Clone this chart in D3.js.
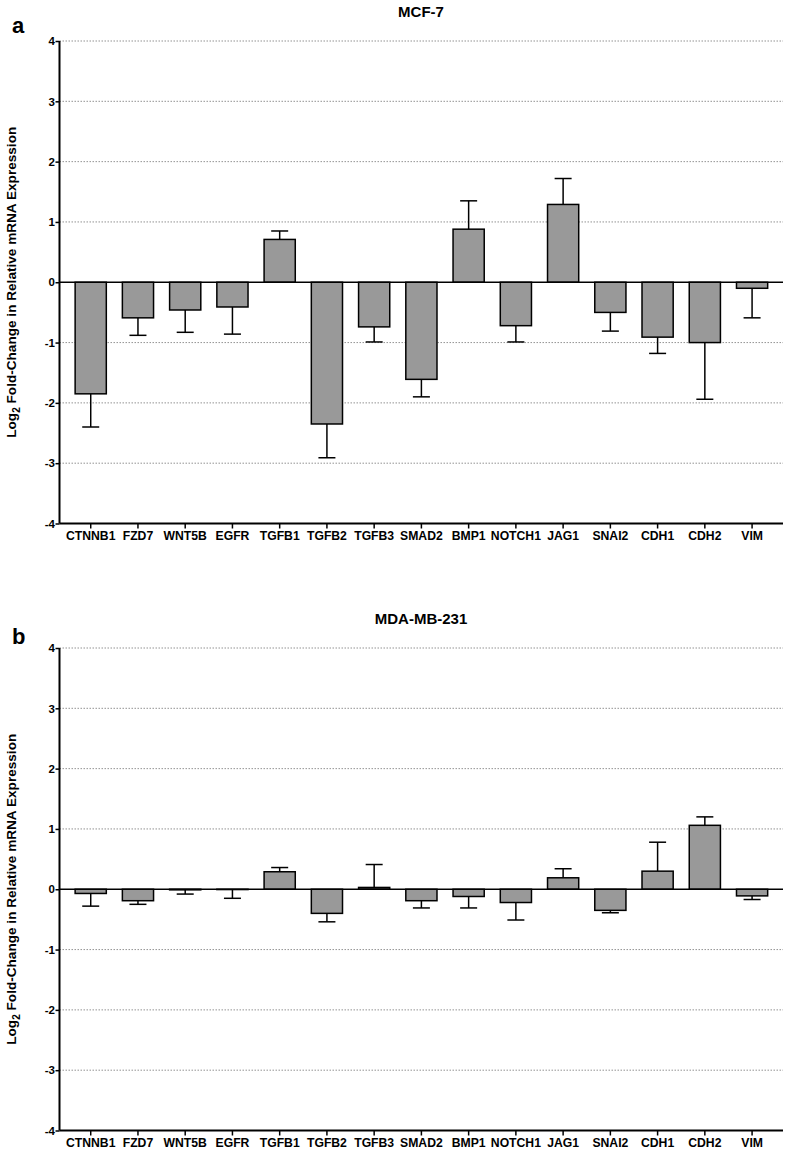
<!DOCTYPE html>
<html>
<head>
<meta charset="utf-8">
<script src="https://cdn.jsdelivr.net/npm/d3@7"></script>
<style>
  body { margin: 0; background: #fff; }
  svg { display: block; font-family: "Liberation Sans", Arial, sans-serif; }
</style>
</head>
<body>
<div id="chart"></div>
<script>
const genes = ["CTNNB1", "FZD7", "WNT5B", "EGFR", "TGFB1", "TGFB2", "TGFB3", "SMAD2",
  "BMP1", "NOTCH1", "JAG1", "SNAI2", "CDH1", "CDH2", "VIM"];

const mcf7Values = [-1.85, -0.59, -0.46, -0.41, 0.71, -2.35, -0.74, -1.61, 0.88, -0.72, 1.29, -0.50, -0.91, -1.00, -0.10];
const mcf7Errors = [0.55, 0.29, 0.37, 0.45, 0.14, 0.56, 0.25, 0.29, 0.47, 0.27, 0.43, 0.31, 0.27, 0.94, 0.49];

const mdaValues = [-0.07, -0.19, -0.01, -0.005, 0.29, -0.40, 0.03, -0.19, -0.12, -0.22, 0.19, -0.35, 0.30, 1.06, -0.11];
const mdaErrors = [0.21, 0.06, 0.07, 0.145, 0.07, 0.14, 0.38, 0.12, 0.19, 0.29, 0.15, 0.04, 0.48, 0.14, 0.06];

const yTicks = [4, 3, 2, 1, 0, -1, -2, -3, -4];

const panels = [
  { letter: "a", title: "MCF-7", values: mcf7Values, errors: mcf7Errors, top: 41, letterY: 33 },
  { letter: "b", title: "MDA-MB-231", values: mdaValues, errors: mdaErrors, top: 648, letterY: 644 }
];

const width = 789;
const height = 1153;
const axisLeft = 59.5;
const axisRight = 783;
const plotHeight = 482.5;

const svg = d3.select("#chart")
  .append("svg")
  .attr("width", width)
  .attr("height", height);

const x = d3.scaleBand()
  .domain(genes)
  .range([67.1, 775.7])
  .paddingInner(0.34)
  .paddingOuter(0.17);

panels.forEach(panel => {
  const y = d3.scaleLinear()
    .domain([-4, 4])
    .range([panel.top + plotHeight, panel.top]);

  const g = svg.append("g");

  // panel letter + title
  g.append("text")
    .attr("x", 12)
    .attr("y", panel.letterY)
    .attr("font-size", 22)
    .attr("font-weight", 700)
    .text(panel.letter);

  g.append("text")
    .attr("x", 421)
    .attr("y", panel.top - 24)
    .attr("text-anchor", "middle")
    .attr("font-size", 15)
    .attr("font-weight", 700)
    .text(panel.title);

  // dotted grid
  g.append("g")
    .selectAll("line")
    .data(yTicks.filter(t => t !== 0 && t !== -4))
    .join("line")
    .attr("x1", axisLeft)
    .attr("x2", axisRight)
    .attr("y1", d => y(d))
    .attr("y2", d => y(d))
    .attr("stroke", "#777")
    .attr("stroke-width", 0.8)
    .attr("stroke-dasharray", "1.5,1.5");

  // y axis
  g.append("g")
    .attr("transform", `translate(${axisLeft},0)`)
    .call(d3.axisLeft(y).tickValues(yTicks).tickSize(4).tickFormat(d => String(d)))
    .call(a => a.select(".domain").attr("stroke-width", 2).attr("d", `M0,${y(4)}V${y(-4)}`))
    .call(a => a.selectAll(".tick line").attr("stroke-width", 1.5))
    .call(a => a.selectAll("text")
      .attr("font-size", 11.5)
      .attr("font-weight", 700)
      .attr("font-family", "Liberation Sans, Arial, sans-serif")
      .attr("fill", "#000")
      .attr("x", -4.5));

  // y axis title
  const title = g.append("text")
    .attr("transform", `translate(15.5,${y(0)}) rotate(-90)`)
    .attr("text-anchor", "middle")
    .attr("font-size", 13.6)
    .attr("font-weight", 700);
  title.append("tspan").text("Log");
  title.append("tspan").attr("font-size", 10).attr("dy", 4).text("2");
  title.append("tspan").attr("dy", -4).text(" Fold-Change in Relative mRNA Expression");

  // x axis
  g.append("g")
    .attr("transform", `translate(0,${y(-4)})`)
    .call(d3.axisBottom(x).tickSize(5).tickSizeOuter(0))
    .call(a => a.select(".domain").attr("stroke-width", 2).attr("d", `M${axisLeft},0H${axisRight}`))
    .call(a => a.selectAll(".tick line").attr("stroke-width", 1.5))
    .call(a => a.selectAll("text")
      .attr("font-size", 12.2)
      .attr("font-weight", 700)
      .attr("font-family", "Liberation Sans, Arial, sans-serif")
      .attr("fill", "#000")
      .attr("y", 8));

  const data = genes.map((gene, i) => ({ gene, value: panel.values[i], err: panel.errors[i] }));

  // error bars (one-sided, away from zero)
  const eb = g.append("g")
    .selectAll("g")
    .data(data)
    .join("g")
    .attr("stroke", "#000")
    .attr("stroke-width", 1.5);

  eb.append("line")
    .attr("x1", d => x(d.gene) + x.bandwidth() / 2)
    .attr("x2", d => x(d.gene) + x.bandwidth() / 2)
    .attr("y1", d => y(d.value))
    .attr("y2", d => y(d.value + Math.sign(d.value || -1) * d.err));

  eb.append("line")
    .attr("x1", d => x(d.gene) + x.bandwidth() / 2 - 8.5)
    .attr("x2", d => x(d.gene) + x.bandwidth() / 2 + 8.5)
    .attr("y1", d => y(d.value + Math.sign(d.value || -1) * d.err))
    .attr("y2", d => y(d.value + Math.sign(d.value || -1) * d.err));

  // bars
  g.append("g")
    .selectAll("rect")
    .data(data)
    .join("rect")
    .attr("x", d => x(d.gene))
    .attr("width", x.bandwidth())
    .attr("y", d => y(Math.max(0, d.value)))
    .attr("height", d => Math.abs(y(d.value) - y(0)))
    .attr("fill", "#999999")
    .attr("stroke", "#000")
    .attr("stroke-width", 1.5);

  // zero line
  g.append("line")
    .attr("x1", axisLeft)
    .attr("x2", axisRight)
    .attr("y1", y(0))
    .attr("y2", y(0))
    .attr("stroke", "#000")
    .attr("stroke-width", 1.5);
});
</script>
</body>
</html>
